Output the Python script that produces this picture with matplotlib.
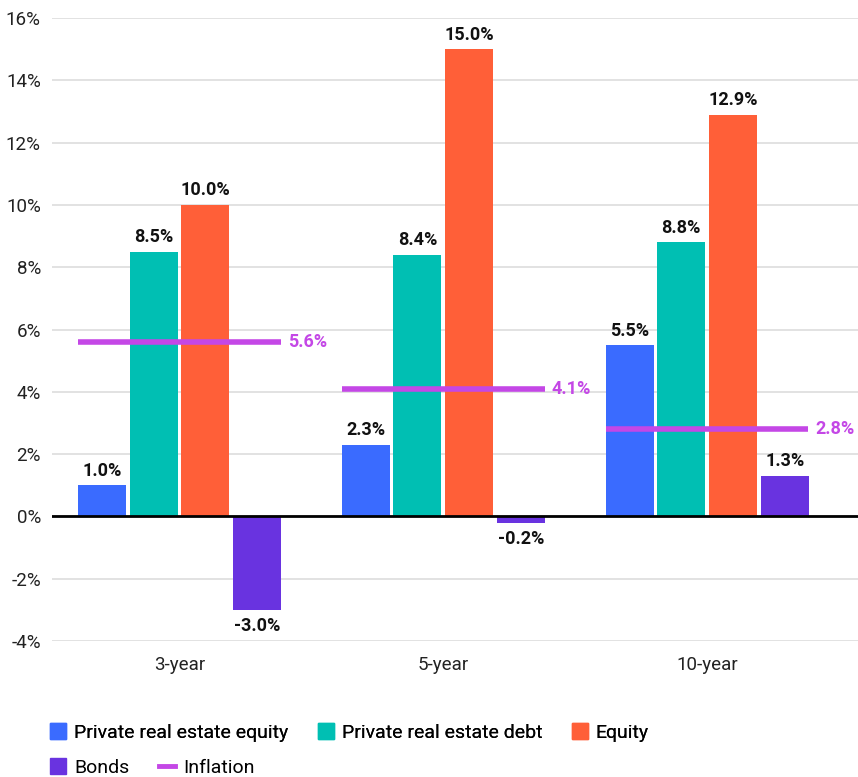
import matplotlib
matplotlib.use("Agg")
import matplotlib.pyplot as plt
import numpy as np
from matplotlib.patches import Patch
from matplotlib.lines import Line2D

plt.rcParams['font.family'] = ['Roboto', 'DejaVu Sans']

periods = ["3-year", "5-year", "10-year"]
series = ["Private real estate equity", "Private real estate debt", "Equity", "Bonds"]
re_equity = [1.0, 2.3, 5.5]
re_debt = [8.5, 8.4, 8.8]
equity = [10.0, 15.0, 12.9]
bonds = [-3.0, -0.2, 1.3]
inflation = [5.6, 4.1, 2.8]

colors = ["#3a6bff", "#00bfb3", "#ff5f38", "#6933e0"]
infl_color = "#c447e6"

fig = plt.figure(figsize=(8.58, 7.77), dpi=100)
ax = fig.add_axes([0.0606, 0.175, 0.9394, 0.8018])

x = np.arange(len(periods))
width = 0.182
step = 0.196
offsets = [-1.5 * step, -0.5 * step, 0.5 * step, 1.5 * step]

for vals, off, c in zip([re_equity, re_debt, equity, bonds], offsets, colors):
    bars = ax.bar(x + off, vals, width, color=c, zorder=3)
    for b, v in zip(bars, vals):
        cx = b.get_x() + b.get_width() / 2
        if v >= 0:
            ax.annotate(f"{v:.1f}%", (cx, v), xytext=(0, 4), textcoords="offset points",
                        ha="center", va="bottom", fontsize=13, fontweight="bold", color="#111111")
        else:
            ax.annotate(f"{v:.1f}%", (cx, v), xytext=(0, -5), textcoords="offset points",
                        ha="center", va="top", fontsize=13, fontweight="bold", color="#111111")

# inflation reference line per period
half = 0.384
for xi, v in zip(x, inflation):
    ax.hlines(v, xi - half, xi + half, color=infl_color, lw=4, zorder=4)
    ax.annotate(f"{v:.1f}%", (xi + half, v), xytext=(5, 0), textcoords="offset points",
                ha="left", va="center", fontsize=13, fontweight="bold", color=infl_color)

ax.axhline(0, color="black", lw=2, zorder=5)

ax.set_xlim(-0.483, 2.572)
ax.set_ylim(-4, 16)
ax.set_yticks(np.arange(-4, 17, 2))
ax.set_yticklabels([f"{t}%" for t in range(-4, 17, 2)])
ax.set_xticks(x)
ax.set_xticklabels(periods)
ax.tick_params(axis="both", length=0, labelsize=13.5, labelcolor="#222222")
ax.tick_params(axis="y", pad=8)
ax.tick_params(axis="x", pad=11)
ax.grid(axis="y", color="#dddddd", lw=1.2, zorder=0)
for s in ax.spines.values():
    s.set_visible(False)

# legend in two rows
legend_kw = dict(loc="upper left", frameon=False, fontsize=14, handlelength=0.85,
                 handleheight=0.85, handletextpad=0.4, columnspacing=1.5, borderaxespad=0)
h1 = [Patch(color=c) for c in colors[:3]]
leg1 = fig.legend(h1, series[:3], bbox_to_anchor=(0.049, 0.079), ncol=3, **legend_kw)
fig.add_artist(leg1)
h2 = [Patch(color=colors[3]), Line2D([0], [0], color=infl_color, lw=3.5)]
leg2 = fig.legend(h2, ["Bonds", "Inflation"], bbox_to_anchor=(0.049, 0.034), ncol=2, **legend_kw)

fig.savefig("out.png", dpi=100)
